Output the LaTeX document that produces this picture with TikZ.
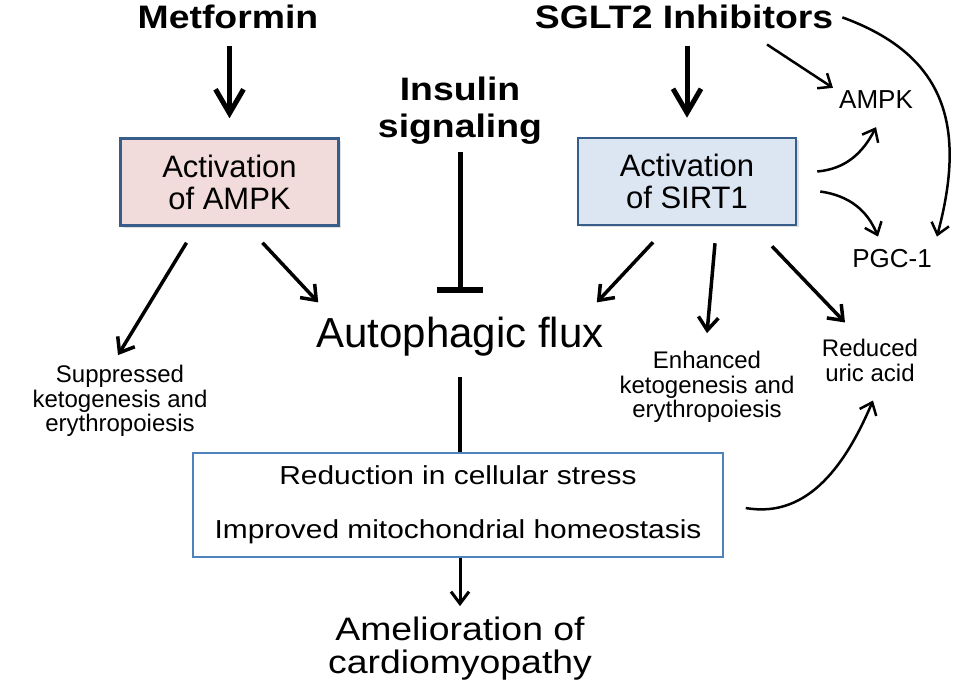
\documentclass[tikz,border=0pt]{standalone}
\usepackage{fontspec}
\setmainfont{Liberation Sans}
\newfontfamily\widesans{Liberation Sans}[FakeStretch=1.15]
\usepackage{tikz}
\usetikzlibrary{positioning,arrows.meta,shadows}

\definecolor{ampkpink}{HTML}{F2DCDB}
\definecolor{sirtblue}{HTML}{DCE6F2}
\definecolor{boxedge}{HTML}{385D8A}
\definecolor{stressedge}{HTML}{4F81BD}

\tikzset{
	drug/.style={font=\widesans\bfseries\fontsize{32.5}{37}\selectfont,inner sep=0pt,align=center},
	actbox/.style={draw=boxedge,line width=2.5pt,minimum width=218pt,minimum height=87pt,align=center,font=\fontsize{31}{32}\selectfont,drop shadow={shadow xshift=2.5pt,shadow yshift=-2.5pt,opacity=0.25}},
	effect/.style={font=\fontsize{24}{24.5}\selectfont,inner sep=0pt,align=center},
	target/.style={font=\fontsize{26}{28}\selectfont,inner sep=0pt},
	bigarrow/.style={line width=5pt,-{Straight Barb[length=24pt,width=28pt]}},
	midarrow/.style={line width=3.5pt,-{Straight Barb[length=13pt,width=20pt]}},
	thinarrow/.style={line width=2.5pt,-{Straight Barb[length=11pt,width=18pt]}},
	blockline/.style={line width=5pt,-{Bar[width=46pt,line width=6pt]}}
}

\begin{document}
\begin{tikzpicture}[x=1pt,y=1pt]
			\useasboundingbox (0,0) rectangle (969,-687);
			
			\node[drug,anchor=base] (met) at (228,-29) {Metformin};
			\node[drug,anchor=base] (sglt) at (684,-29) {SGLT2 Inhibitors};
			\node[drug] (ins) at (460,-111) {Insulin\\signaling};
			
			\node[actbox,fill=ampkpink] (ampkbox) at (229.5,-182) {Activation\\of AMPK};
			\node[actbox,fill=sirtblue] (sirtbox) at (687,-181.5) {Activation\\of SIRT1};
			
			\node[font=\fontsize{42}{46}\selectfont,inner sep=0pt,anchor=base] (flux) at (460,-347) {Autophagic flux};
			
			\node[effect] (supp) at (120,-401) {Suppressed\\ketogenesis and\\erythropoiesis};
			\node[effect] (enh) at (707,-387) {Enhanced\\ketogenesis and\\erythropoiesis};
			\node[effect,font=\fontsize{24}{25}\selectfont] (uric) at (870,-360) {Reduced\\uric acid};
			
			\node[target] (ampk) at (876,-100) {AMPK};
			\node[target] (pgc) at (892,-259) {PGC-1};
			
			\node[draw=stressedge,line width=1.5pt,minimum width=530pt,minimum height=104pt,align=center,font=\widesans\fontsize{26}{27}\selectfont] (stress) at (458,-505) {Reduction in cellular stress\\[27pt]Improved mitochondrial homeostasis};
			
			\node[font=\widesans\fontsize{32.5}{33}\selectfont,inner sep=0pt,align=center] (amel) at (460,-649) {Amelioration of\\cardiomyopathy};
			
			\draw[bigarrow,shorten <=16pt,shorten >=19pt] (ampkbox.north |- met.south)--(ampkbox.north);
			\draw[bigarrow,shorten <=16pt,shorten >=19pt] (sirtbox.north |- sglt.south)--(sirtbox.north);
			\draw[blockline,shorten <=7pt,shorten >=23pt] (ins.south)--(flux.north);
			\draw[line width=4pt,shorten <=21pt] (flux.south)--(flux.south |- stress.north);
			\draw[line width=3pt,-{Straight Barb[length=12pt,width=18pt]},shorten >=11pt] (amel.north |- stress.south)--(amel.north);
			
			\draw[midarrow] ([xshift=-43pt,yshift=-16pt]ampkbox.south)--([xshift=-2pt,yshift=10pt]supp.north);
			\draw[midarrow] ([xshift=33pt,yshift=-16pt]ampkbox.south)--([xshift=2pt,yshift=14pt]flux.north west);
			\draw[midarrow] ([xshift=-34pt,yshift=-16pt]sirtbox.south)--([xshift=-7pt,yshift=14pt]flux.north east);
			\draw[midarrow] ([xshift=28pt,yshift=-17pt]sirtbox.south)--([yshift=18pt]enh.north);
			\draw[midarrow] ([xshift=85pt,yshift=-20pt]sirtbox.south)--([xshift=-25pt,yshift=16pt]uric.north);
			
			\draw[thinarrow] ([xshift=83pt,yshift=-15pt]sglt.south)--([xshift=-6pt,yshift=3pt]ampk.north west);
			\draw[thinarrow] ([xshift=20pt,yshift=10pt]sirtbox.east) to[out=5,in=-117] ([yshift=-18pt]ampk.south);
			\draw[thinarrow] ([xshift=23pt,yshift=-10pt]sirtbox.east) to[out=-8,in=112] ([xshift=-14pt,yshift=13pt]pgc.north);
			\draw[thinarrow] ([xshift=9pt]sglt.east) to[out=-20,in=75,looseness=1.2] ([xshift=5pt,yshift=13pt]pgc.north east);
			\draw[thinarrow] ([xshift=22pt,yshift=-3pt]stress.east) to[out=-10,in=-113] ([xshift=3pt,yshift=-19pt]uric.south);
		\end{tikzpicture}
\end{document}
